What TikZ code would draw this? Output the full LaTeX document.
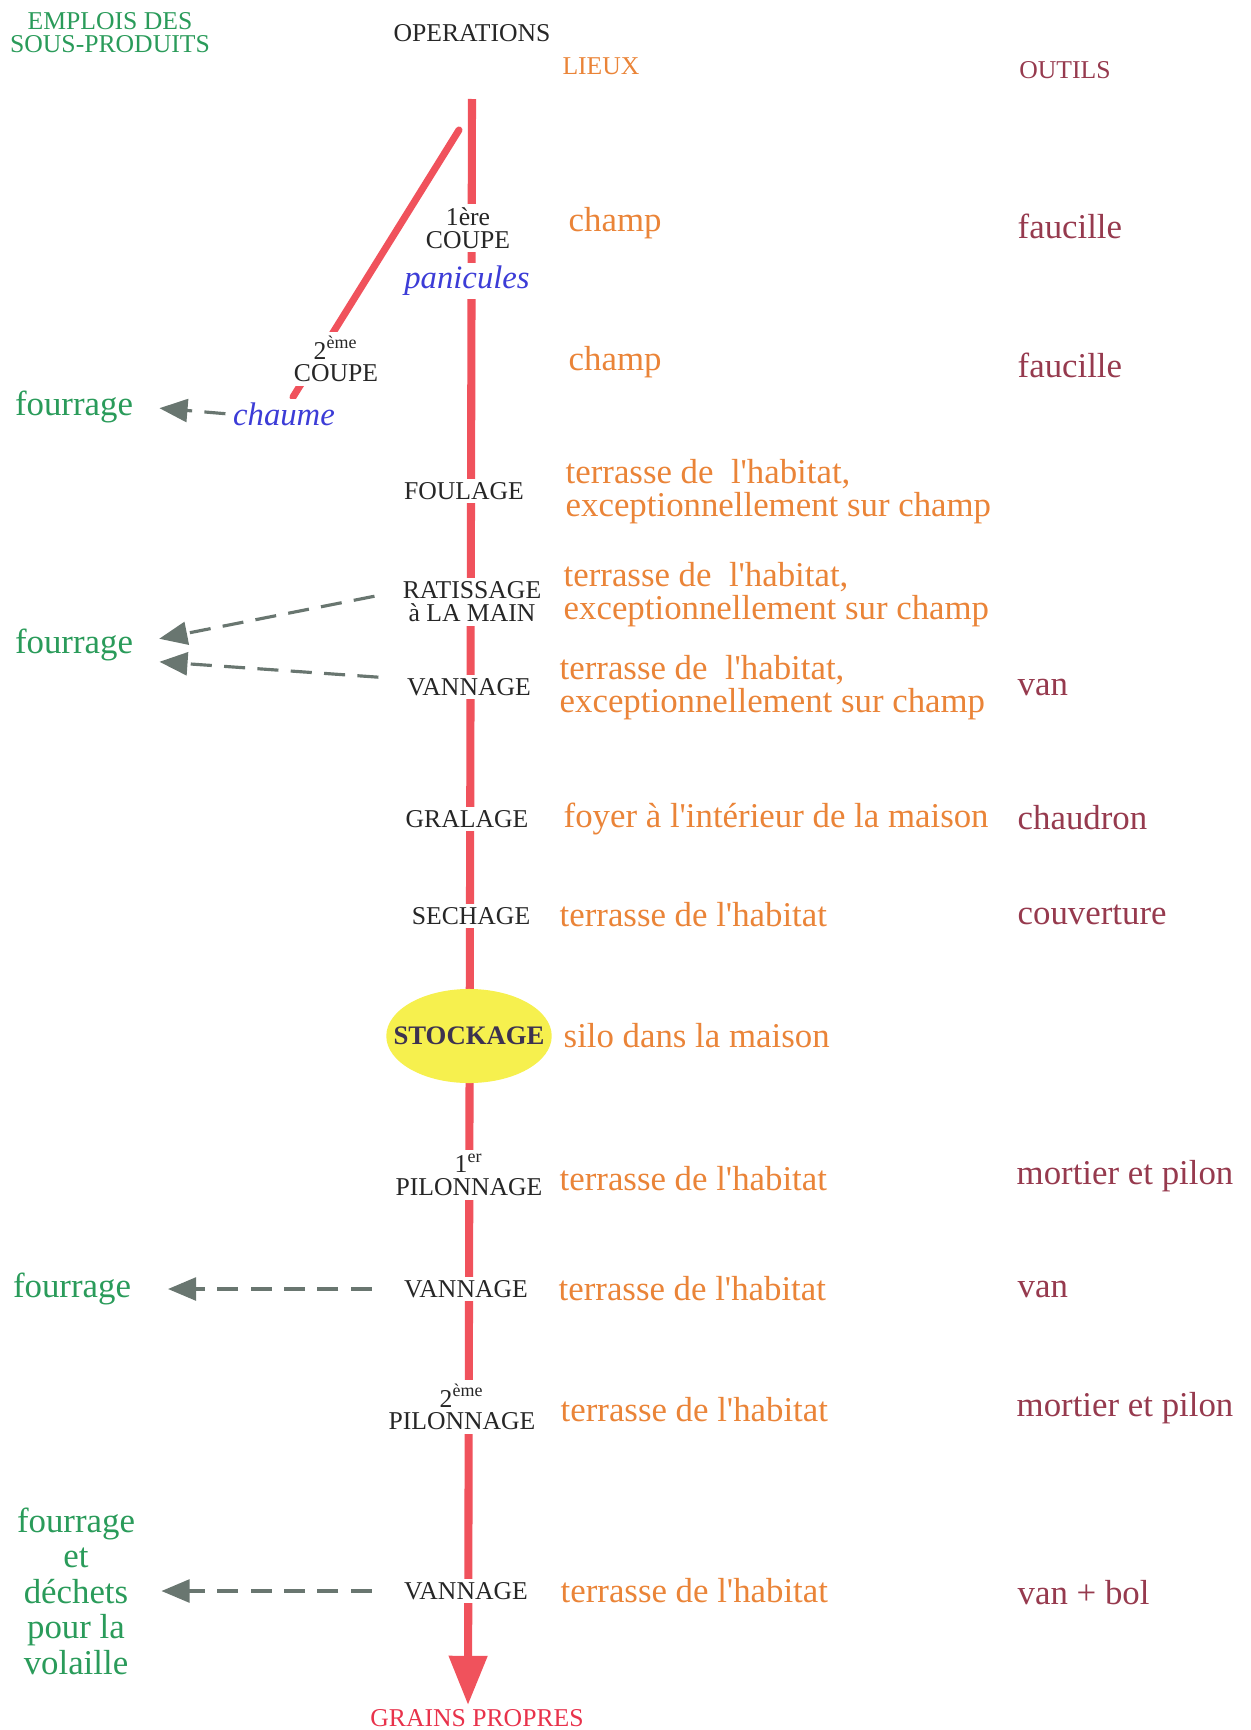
\documentclass[tikz,border=0pt]{standalone}
\usepackage{fontspec}
\setmainfont{Liberation Serif}[Ligatures=TeXOff]
\usetikzlibrary{arrows.meta,shapes.geometric}
\definecolor{rougecol}{RGB}{240,82,92}
\definecolor{lieucol}{RGB}{234,132,56}
\definecolor{outilcol}{RGB}{150,58,78}
\definecolor{vertcol}{RGB}{42,155,90}
\definecolor{bleucol}{RGB}{60,60,215}
\definecolor{grisfl}{RGB}{105,118,112}
\definecolor{silocol}{RGB}{246,240,78}
\definecolor{grainscol}{RGB}{232,50,75}
\definecolor{stockcol}{RGB}{60,50,80}
\begin{document}
\begin{tikzpicture}[x=0.01cm,y=-0.01cm,
    op/.style={fill=white,inner sep=1pt,align=center,text=black!85,
      font=\fontsize{7.3}{6.5}\selectfont},
    head/.style={align=center,font=\fontsize{7.3}{6.6}\selectfont},
    lieu/.style={anchor=west,inner sep=0pt,align=left,text=lieucol,
      font=\fontsize{9.9}{9.4}\selectfont},
    outil/.style={anchor=west,inner sep=0pt,text=outilcol,
      font=\fontsize{9.9}{9.4}\selectfont},
    emploi/.style={align=center,text=vertcol,font=\fontsize{9.9}{10.1}\selectfont},
    tige/.style={fill=white,inner sep=1pt,text=bleucol,
      font=\itshape\fontsize{9.3}{10}\selectfont},
    flux/.style={draw=rougecol,line width=2.3pt},
    dechet/.style={draw=grisfl,line width=0.9pt,dash pattern=on 6pt off 3.5pt,
      -{Triangle[length=8pt,width=6.5pt]},shorten <=7pt,shorten >=4pt}]
  \useasboundingbox (0,0) rectangle (1250,1730);
  \coordinate (top) at (472,99);
  \coordinate (tip) at (468,1705);
  \coordinate (diagtop) at (459,130);
  \coordinate (diagbot) at (293,397);
  \draw[flux,-{Triangle[length=14pt,width=10.5pt]}] (top) -- (tip);
  \draw[flux,line width=2pt,line cap=round] (diagtop) -- (diagbot);

  \node[head,text=vertcol] (emplois) at (110,33) {EMPLOIS DES\\SOUS-PRODUITS};
  \node[head,text=black!85] (operations) at (472,33) {OPERATIONS};
  \node[head,text=lieucol] (lieux) at (601,66) {LIEUX};
  \node[head,text=outilcol] (outils) at (1065,70) {OUTILS};

  \node[op] (coupeA) at (468,228) {1ère\\COUPE};
  \node[tige] (panicules) at (467,281) {panicules};
  \node[op] (coupeB) at (336,359) {2\textsuperscript{ème}\\COUPE};
  \node[tige] (chaume) at (284,414) {chaume};
  \node[op] (foulage) at (464,491) {FOULAGE};
  \node[op] (ratissage) at (472,602) {RATISSAGE\\à LA MAIN};
  \node[op] (vannageA) at (469,687) {VANNAGE};
  \node[op] (gralage) at (467,819) {GRALAGE};
  \node[op] (sechage) at (471,916) {SECHAGE};
  \node[ellipse,fill=silocol,minimum width=1.65cm,minimum height=0.94cm,
    inner xsep=-0.17cm,inner ysep=0pt,text=stockcol,
    font=\bfseries\fontsize{7.6}{8}\selectfont]
    (stockage) at (469,1036) {STOCKAGE};
  \node[op] (pilonA) at (469,1175) {1\textsuperscript{er}\\PILONNAGE};
  \node[op] (vannageB) at (466,1289) {VANNAGE};
  \node[op] (pilonB) at (462,1407) {2\textsuperscript{ème}\\PILONNAGE};
  \node[op] (vannageC) at (466,1591) {VANNAGE};
  \node[head,text=grainscol] (grains) at (477,1718) {GRAINS PROPRES};

  \node[lieu] (lieuA) at (568,223) {champ};
  \node[lieu] (lieuB) at (568,362) {champ};
  \node[lieu] (lieuC) at (565,492) {terrasse de \ l'habitat,\\exceptionnellement sur champ};
  \node[lieu] (lieuD) at (563,595) {terrasse de \ l'habitat,\\exceptionnellement sur champ};
  \node[lieu] (lieuE) at (559,688) {terrasse de \ l'habitat,\\exceptionnellement sur champ};
  \node[lieu] (lieuF) at (563,819) {foyer à l'intérieur de la maison};
  \node[lieu] (lieuG) at (559,915) {terrasse de l'habitat};
  \node[lieu] (lieuH) at (563,1036) {silo dans la maison};
  \node[lieu] (lieuI) at (559,1179) {terrasse de l'habitat};
  \node[lieu] (lieuJ) at (558,1289) {terrasse de l'habitat};
  \node[lieu] (lieuK) at (560,1410) {terrasse de l'habitat};
  \node[lieu] (lieuL) at (560,1591) {terrasse de l'habitat};

  \node[outil] (outilA) at (1017,226) {faucille};
  \node[outil] (outilB) at (1017,365) {faucille};
  \node[outil] (outilC) at (1017,687) {van};
  \node[outil] (outilD) at (1017,818) {chaudron};
  \node[outil] (outilE) at (1017,915) {couverture};
  \node[outil] (outilF) at (1016,1176) {mortier et pilon};
  \node[outil] (outilG) at (1017,1289) {van};
  \node[outil] (outilH) at (1016,1408) {mortier et pilon};
  \node[outil] (outilI) at (1017,1593) {van + bol};

  \node[emploi] (fourrageA) at (74,407) {fourrage};
  \node[emploi] (fourrageB) at (74,645) {fourrage};
  \node[emploi] (fourrageC) at (72,1289) {fourrage};
  \node[emploi] (dechets) at (76,1591) {fourrage\\et\\déchets\\pour la\\volaille};

  \draw[dechet,shorten <=1pt] (chaume.west) -- (fourrageA.east);
  \draw[dechet] ([yshift=3pt]ratissage.west) -- ([yshift=1pt]fourrageB.east);
  \draw[dechet] ([yshift=2.3pt]vannageA.west) -- ([yshift=-4.5pt]fourrageB.east);
  \draw[dechet,shorten <=8pt,shorten >=7pt] (vannageB.west) -- (fourrageC.east);
  \draw[dechet,shorten <=8pt] (vannageC.west) -- (dechets.east);
\end{tikzpicture}
\end{document}
